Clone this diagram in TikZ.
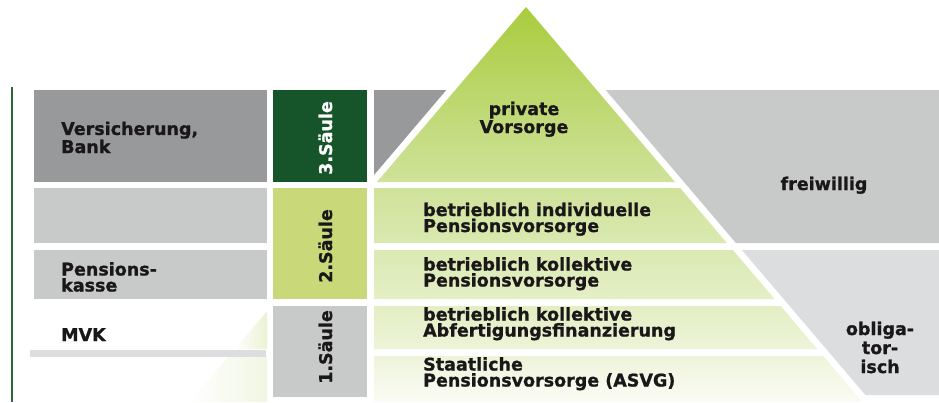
\documentclass[tikz,border=0pt]{standalone}
\usepackage{fontspec}
\setmainfont{DejaVu Sans}[BoldFeatures={FakeBold=1.0}]

\definecolor{ink}{HTML}{1A1718}
\definecolor{darkgrey}{HTML}{98999B}
\definecolor{midgrey}{HTML}{C8C9C9}
\definecolor{palegrey}{HTML}{DCDDDE}
\definecolor{pillargreen}{HTML}{16542A}
\definecolor{pillarlime}{HTML}{C9D97A}
\definecolor{ruleline}{HTML}{2A6A35}
% green tones of the pyramid, top to bottom
\definecolor{pyrA}{HTML}{A9CC3E}
\definecolor{pyrB}{HTML}{CFE29A}
\definecolor{pyrC}{HTML}{DAE9B0}
\definecolor{pyrD}{HTML}{DBE9B3}
\definecolor{pyrE}{HTML}{E4EFC5}
\definecolor{pyrF}{HTML}{E3EEC3}
\definecolor{pyrG}{HTML}{EDF4D8}
\definecolor{pyrH}{HTML}{EEF4DA}
\definecolor{pyrI}{HTML}{FBFCF5}
\definecolor{pyrJ}{HTML}{EBF2D3}
\definecolor{pyrK}{HTML}{F1F6E2}

\tikzset{
  lbl/.style={font=\bfseries\fontsize{17.5}{16}\selectfont, text=ink,
    inner sep=0pt, align=left, anchor=base west},
  clbl/.style={lbl, align=center, anchor=base},
  pillarlbl/.style={font=\bfseries\fontsize{17.5}{16}\selectfont, text=ink,
    inner sep=0pt, rotate=90, anchor=base},
  band/.style={draw=none},
}

\begin{document}
\begin{tikzpicture}[x=1pt, y=-1pt]
\useasboundingbox[fill=white] (0,0) rectangle (939,402);

% vertical rule on the left
\fill[ruleline] (10.5,87) rectangle (12.5,402);

% pyramid: apex (526,7), flank slope 0.8514 px per px
\shade[band, top color=pyrA, bottom color=pyrB]
  (526,7) -- (675,182) -- (377,182) -- cycle;
\shade[band, top color=pyrB, bottom color=pyrC]
  (374,188) -- (680.1,188) -- (726.9,243) -- (374,243) -- cycle;
\shade[band, top color=pyrD, bottom color=pyrE]
  (374,250) -- (732.9,250) -- (774.6,299) -- (374,299) -- cycle;
\shade[band, top color=pyrF, bottom color=pyrG]
  (374,306) -- (780.6,306) -- (817.2,349) -- (374,349) -- cycle;
\shade[band, top color=pyrH, bottom color=pyrI]
  (374,356) -- (823.1,356) -- (862.3,402) -- (374,402) -- cycle;
% flank of the pyramid showing beside the first pillar
\shade[band, left color=white, right color=pyrJ]
  (267,311.2) -- (267,349) -- (234.8,349) -- cycle;
\shade[band, left color=white, right color=pyrK]
  (228.9,356) -- (267,356) -- (267,402) -- (189.7,402) -- cycle;

% institutions column
\fill[darkgrey] (34,90) rectangle (267,182);
\fill[midgrey]  (34,188) rectangle (267,243);
\fill[midgrey]  (34,250) rectangle (267,299);
\fill[palegrey] (30,350) rectangle (266,357);

% pillars
\fill[pillargreen] (273,90) rectangle (367,182);
\fill[pillarlime]  (273,188) rectangle (367,299);
\fill[midgrey]     (273,306) rectangle (367,397);

% grey fields beside the pyramid
\fill[darkgrey] (374,90) -- (446.3,90) -- (374,175) -- cycle;
\fill[midgrey]  (605.7,90) -- (939,90) -- (939,243) -- (735.9,243) -- cycle;
\fill[palegrey] (741.9,250) -- (939,250) -- (939,395) -- (865.4,395) -- cycle;

% labels (multi-line nodes sit on the baseline of their last line)
\node[lbl] (vers) at (61,153) {Versicherung,\\Bank};
\node[lbl] (pk)   at (61,291.5) {Pensions-\\kasse};
\node[lbl] (mvk)  at (61,341) {MVK};

\node[pillarlbl, text=white] (s3) at (332,138) {3.Säule};
\node[pillarlbl] (s2) at (332,246) {2.Säule};
\node[pillarlbl] (s1) at (332,347) {1.Säule};

\node[clbl, font=\bfseries\fontsize{17.5}{18}\selectfont] (priv) at (524,133) {private\\Vorsorge};
\node[lbl] (bi)  at (423,232) {betrieblich individuelle\\Pensionsvorsorge};
\node[lbl] (bk)  at (423,286.5) {betrieblich kollektive\\Pensionsvorsorge};
\node[lbl] (ba)  at (423,336.5) {betrieblich kollektive\\Abfertigungsfinanzierung};
\node[lbl] (st)  at (423,386.5) {Staatliche\\Pensionsvorsorge (ASVG)};

\node[clbl] (frei) at (824,190) {freiwillig};
\node[clbl, font=\bfseries\fontsize{17.5}{19}\selectfont] (obl) at (880,373) {obliga-\\tor-\\isch};
\end{tikzpicture}
\end{document}
